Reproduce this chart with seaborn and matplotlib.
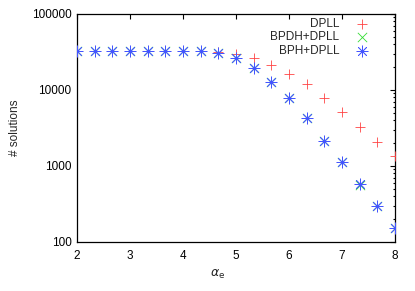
import matplotlib
matplotlib.use("Agg")
import matplotlib.pyplot as plt
import seaborn as sns
import pandas as pd
from matplotlib.ticker import LogLocator, NullFormatter, FixedLocator

# data
alpha = [2.0, 2.333, 2.667, 3.0, 3.333, 3.667, 4.0, 4.333, 4.667, 5.0,
         5.333, 5.667, 6.0, 6.333, 6.667, 7.0, 7.333, 7.667, 8.0]
dpll = [32768, 32768, 32768, 32768, 32768, 32768, 32768, 32600, 31900, 29800,
        26100, 21500, 16100, 11900, 7780, 5090, 3260, 2090, 1370]
bpdh_dpll = [32768, 32768, 32768, 32768, 32768, 32768, 32768, 32500, 30300, 26000,
             19500, 12800, 7850, 4300, 2120, 1140, 570, 298, 152]
bph_dpll = [32768, 32768, 32768, 32768, 32768, 32768, 32768, 32500, 30400, 26100,
            19600, 12800, 7850, 4330, 2130, 1140, 574, 300, 154]

df = pd.DataFrame({"alpha": alpha, "DPLL": dpll,
                   "BPDH+DPLL": bpdh_dpll, "BPH+DPLL": bph_dpll})

sns.set_style("white")
plt.rcParams["font.family"] = ["Liberation Sans", "DejaVu Sans"]

fig = plt.figure(figsize=(4.15, 2.91), dpi=100)
ax = fig.add_axes([77 / 415, 1 - 242 / 291, 318 / 415, 228 / 291])

sns.scatterplot(data=df, x="alpha", y="DPLL", ax=ax, marker="+", s=60,
                color="#ff4444", linewidth=0.6, label="DPLL", zorder=3)
sns.scatterplot(data=df, x="alpha", y="BPDH+DPLL", ax=ax, marker="x", s=45,
                color="#33dd33", linewidth=0.6, label="BPDH+DPLL", zorder=4)
sns.scatterplot(data=df, x="alpha", y="BPH+DPLL", ax=ax, marker=(8, 2, 0), s=65,
                color="#4455ff", linewidth=0.55, label="BPH+DPLL", zorder=5)

ax.set_yscale("log")
ax.set_xlim(2, 8)
ax.set_ylim(100, 100000)
ax.xaxis.set_major_locator(FixedLocator([2, 3, 4, 5, 6, 7, 8]))
ax.yaxis.set_major_locator(FixedLocator([100, 1000, 10000, 100000]))
ax.yaxis.set_major_formatter(matplotlib.ticker.FuncFormatter(lambda v, p: f"{int(v)}"))
ax.yaxis.set_minor_locator(LogLocator(base=10, subs=range(2, 10)))
ax.yaxis.set_minor_formatter(NullFormatter())

ax.tick_params(which="both", direction="in", top=True, right=True,
               labelsize=8.5, colors="black", width=0.8)
ax.tick_params(which="major", length=3.5, pad=4)
ax.tick_params(which="minor", length=1.8)
ax.tick_params(axis="x", pad=6)
for sp in ax.spines.values():
    sp.set_color("black")
    sp.set_linewidth(0.9)

ax.set_xlabel(r"$\alpha_\mathrm{e}$", fontsize=9)
ax.set_ylabel("# solutions", fontsize=8.5)
ax.xaxis.set_label_coords(0.443, -0.115)
ax.yaxis.set_label_coords(-0.175, 0.5)

ax.legend(loc="upper right", bbox_to_anchor=(0.955, 1.015), markerfirst=False,
          frameon=False, fontsize=8.5, handletextpad=0.9, labelspacing=0.15,
          borderaxespad=0.2)

fig.savefig("out.png", dpi=100)
